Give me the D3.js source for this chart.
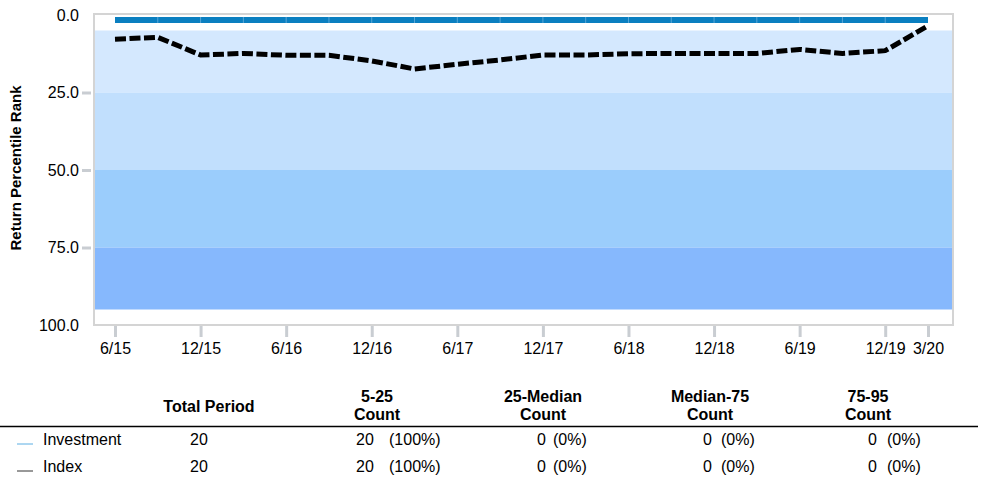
<!DOCTYPE html>
<html><head><meta charset="utf-8">
<script src="https://cdn.jsdelivr.net/npm/d3@7"></script>
<style>body{margin:0;background:#fff;} svg text{font-family:Arial,"Liberation Sans",sans-serif;}</style>
</head><body>
<svg id="c" width="993" height="478"></svg>
<script>
const quarters = ["6/15","9/15","12/15","3/16","6/16","9/16","12/16","3/17","6/17","9/17","12/17","3/18","6/18","9/18","12/18","3/19","6/19","9/19","12/19","3/20"];
const tickLabels = ["6/15","12/15","6/16","12/16","6/17","12/17","6/18","12/18","6/19","12/19","3/20"];
const investment = [1.6,1.6,1.6,1.6,1.6,1.6,1.6,1.6,1.6,1.6,1.6,1.6,1.6,1.6,1.6,1.6,1.6,1.6,1.6,1.6];
const indexRank = [7.8,7.2,12.9,12.4,13,13,14.8,17.4,15.9,14.5,12.9,12.9,12.5,12.4,12.4,12.4,11.1,12.4,11.5,3.5];
const bands = [[5,25],[25,50],[50,75],[75,95]];
const bandColors = ["#d4e8fe","#c1dffd","#9bcdfc","#86b8fd"];
const yTicks = [0,25,50,75,100];
const tableHeaders = [["Total Period"],["5-25","Count"],["25-Median","Count"],["Median-75","Count"],["75-95","Count"]];
const rowNames = ["Investment","Index"];
const rowColors = ["#5aaee3","#333333"];
const totalPeriod = [20,20];
const counts = [[20,0,0,0],[20,0,0,0]];
const pcts = [["(100%)","(0%)","(0%)","(0%)"],["(100%)","(0%)","(0%)","(0%)"]];

const svg = d3.select("#c");
const x = d3.scalePoint().domain(quarters).range([115,928]);
const y = d3.scaleLinear().domain([0,100]).range([15,325]);
const L=94,R=953;
const FS=16;

svg.selectAll("rect.band").data(bands).enter().append("rect")
  .attr("x",L+1).attr("width",R-L-2)
  .attr("y",d=>y(d[0])).attr("height",d=>y(d[1])-y(d[0]))
  .attr("fill",(d,i)=>bandColors[i]);

svg.append("rect").attr("x",L).attr("y",14).attr("width",R-L).attr("height",325-14)
  .attr("fill","none").attr("stroke","#d4d4d4").attr("stroke-width",2);

const ya = svg.append("g").attr("transform",`translate(${L-3},0)`)
  .call(d3.axisLeft(y).tickValues(yTicks).tickFormat(d3.format(".1f")).tickSize(9).tickPadding(3));
ya.select(".domain").remove();
ya.selectAll(".tick line").attr("stroke","#c9cdd2").attr("stroke-width",3).attr("opacity",d=>d===0||d===100?0:1);
ya.selectAll(".tick text").attr("font-size",FS).attr("fill","#000").attr("font-family",null);

svg.append("text").attr("transform","translate(21,168) rotate(-90)").attr("text-anchor","middle")
  .attr("font-size",15).attr("font-weight","bold").text("Return Percentile Rank");

const xa = svg.append("g").attr("transform","translate(0,326)")
  .call(d3.axisBottom(x).tickValues(tickLabels).tickSize(11).tickPadding(6));
xa.select(".domain").remove();
xa.selectAll(".tick line").attr("stroke","#c9cdd2").attr("stroke-width",3);
xa.selectAll(".tick text").attr("font-size",FS).attr("fill","#000").attr("font-family",null);

// investment line
const invLine = d3.line().x((d,i)=>x(quarters[i])).y(d=>y(d));
svg.append("path").datum(investment).attr("d",invLine).attr("fill","none")
  .attr("stroke","#0b7fc0").attr("stroke-width",6);
svg.selectAll("line.seam").data(quarters.slice(1,-1)).enter().append("line")
  .attr("x1",d=>x(d)).attr("x2",d=>x(d))
  .attr("y1",(d,i)=>y(investment[i+1])-3).attr("y2",(d,i)=>y(investment[i+1])+3)
  .attr("stroke","#6fb0dc").attr("stroke-width",0.8);

// index line
svg.append("path").datum(indexRank).attr("d",invLine).attr("fill","none")
  .attr("stroke","#000").attr("stroke-width",5).attr("stroke-dasharray","11,3.5");

// table
const colX = [209,377,543,710,868];
tableHeaders.forEach((h,i)=>{
  const t = svg.append("text").attr("text-anchor","middle").attr("font-size",FS).attr("font-weight","bold");
  if(h.length===1){ t.attr("x",colX[i]).attr("y",412).text(h[0]); }
  else {
    t.append("tspan").attr("x",colX[i]).attr("y",402).text(h[0]);
    t.append("tspan").attr("x",colX[i]).attr("y",420).text(h[1]);
  }
});
svg.append("line").attr("x1",0).attr("x2",978).attr("y1",426.5).attr("y2",426.5).attr("stroke","#000").attr("stroke-width",1.5);

const rowY = [445,472];
const numX = [[356,389],[537,553],[703,721],[868,887]];
rowNames.forEach((n,r)=>{
  svg.append("line").attr("x1",17).attr("x2",33).attr("y1",rowY[r]-1).attr("y2",rowY[r]-1).attr("stroke",rowColors[r]).attr("stroke-width",1);
  svg.append("text").attr("x",43).attr("y",rowY[r]).attr("font-size",FS).text(n);
  svg.append("text").attr("x",190).attr("y",rowY[r]).attr("font-size",FS).text(totalPeriod[r]);
  counts[r].forEach((c,k)=>{
    svg.append("text").attr("x",numX[k][0]).attr("y",rowY[r]).attr("font-size",FS).text(c);
    svg.append("text").attr("x",numX[k][1]).attr("y",rowY[r]).attr("font-size",FS).text(pcts[r][k]);
  });
});
</script>
</body></html>
